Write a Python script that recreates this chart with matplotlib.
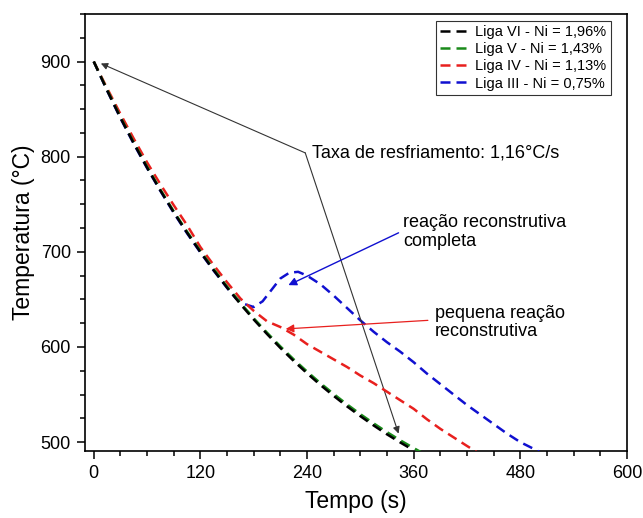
import matplotlib
matplotlib.use("Agg")
import matplotlib.pyplot as plt
from matplotlib.ticker import MultipleLocator

plt.rcParams['font.family'] = ['Liberation Sans', 'DejaVu Sans']

# Cooling curves: time (s) and temperature (°C)
t_vi = [0, 15, 30, 45, 60, 75, 90, 105, 120, 135, 150, 165, 180, 195, 210,
        225, 240, 255, 270, 285, 300, 315, 330, 345, 358]
T_vi = [900, 869.8, 841.0, 814.1, 788.5, 764.4, 741.6, 720.1, 699.8, 680.6,
        662.4, 645.1, 628.9, 613.6, 599.0, 585.3, 572.4, 560.1, 548.6, 537.6,
        527.3, 517.5, 508.2, 499.6, 492.5]

t_v = [0, 15, 30, 45, 60, 75, 90, 105, 120, 135, 150, 165, 180, 195, 210,
       225, 240, 255, 270, 285, 300, 315, 330, 345, 360, 372]
T_v = [900, 870.5, 841.8, 815.0, 789.5, 765.4, 742.6, 721.2, 700.9, 681.8,
       663.6, 646.4, 630.2, 615.0, 600.6, 587.0, 574.2, 562.0, 550.6, 539.7,
       529.4, 519.7, 510.5, 501.9, 493.8, 487.5]

t_iv = [0, 15, 30, 45, 60, 75, 90, 105, 120, 135, 150, 165, 180, 195, 210,
        225, 240, 255, 270, 285, 300, 315, 330, 345, 360, 375, 390, 405, 420, 432]
T_iv = [900, 872, 845, 819, 794, 771, 749, 728, 705, 686, 668, 651, 638, 627,
        621, 613, 603, 595, 587, 579, 570, 562, 553, 544, 535, 524, 514, 505,
        496, 489]

t_iii = [0, 15, 30, 45, 60, 75, 90, 105, 120, 135, 150, 160, 170, 180, 190,
         200, 210, 220, 230, 240, 255, 270, 285, 300, 315, 330, 345, 360, 375,
         390, 405, 420, 435, 450, 465, 480, 495, 505]
T_iii = [900, 869.5, 840.5, 813.5, 788, 764, 741, 719.5, 699.3, 680.2, 662.2,
         651, 645, 642, 648, 660, 672, 678, 679, 675, 666, 654, 641, 628, 616,
         605, 595, 584, 572, 561, 550, 539, 529, 519, 509, 500, 493, 488]

labels = ['Liga VI - Ni = 1,96%', 'Liga V - Ni = 1,43%',
          'Liga IV - Ni = 1,13%', 'Liga III - Ni = 0,75%']
colors = ['black', '#1a8a1a', '#e8201e', '#1010d0']

x_ticks = [0, 120, 240, 360, 480, 600]
y_ticks = [500, 600, 700, 800, 900]

fig = plt.figure(figsize=(6.43, 5.18), dpi=100)
ax = fig.add_axes([0.132, 0.129, 0.843, 0.844])

dash = (0, (4, 2.4))
lw = 1.8
series = [(t_vi, T_vi), (t_v, T_v), (t_iv, T_iv), (t_iii, T_iii)]
handles = [None] * 4
for i in [3, 2, 1, 0]:
    t, T = series[i]
    handles[i], = ax.plot(t, T, color=colors[i], lw=lw, linestyle=dash,
                          label=labels[i], zorder=3 + (3 - i))

ax.set_xlim(-10, 600)
ax.set_ylim(490.5, 950)
ax.set_xticks(x_ticks)
ax.set_yticks(y_ticks)
ax.xaxis.set_minor_locator(MultipleLocator(30))
ax.yaxis.set_minor_locator(MultipleLocator(25))
ax.tick_params(which='both', direction='out', top=False, right=False,
               labelsize=13, width=1.1, pad=4)
ax.tick_params(which='major', length=6)
ax.tick_params(which='minor', length=3.5)
for s in ax.spines.values():
    s.set_linewidth(1.2)

ax.set_xlabel('Tempo (s)', fontsize=16.5, labelpad=6)
ax.set_ylabel('Temperatura (°C)', fontsize=16.5, labelpad=4)

leg = ax.legend(handles=handles, loc='upper right', bbox_to_anchor=(0.97, 0.985),
                fontsize=10.5, frameon=True, fancybox=False, handlelength=2.0,
                handletextpad=0.4, borderpad=0.3, labelspacing=0.22,
                borderaxespad=0)
leg.get_frame().set_edgecolor('black')
leg.get_frame().set_linewidth(0.8)

# Cooling-rate annotation with two leader lines
vx, vy = 238, 804
ax.text(vx + 8, vy, 'Taxa de resfriamento: 1,16°C/s', fontsize=13,
        va='center', ha='left')
for hx, hy in [(8, 898), (343, 509)]:
    ax.annotate('', xy=(hx, hy), xytext=(vx, vy),
                arrowprops=dict(arrowstyle='-|>', color='#333333', lw=0.8,
                                mutation_scale=10, shrinkA=0, shrinkB=0))

ax.annotate('', xy=(219, 665), xytext=(343, 720),
            arrowprops=dict(arrowstyle='-|>', color='#1010d0', lw=1.0,
                            mutation_scale=12, shrinkA=0, shrinkB=0))
ax.text(348, 721, 'reação reconstrutiva\ncompleta', fontsize=13,
        va='center', ha='left', linespacing=1.1)

ax.annotate('', xy=(216, 619), xytext=(376, 628),
            arrowprops=dict(arrowstyle='-|>', color='#e8201e', lw=0.9,
                            mutation_scale=12, shrinkA=0, shrinkB=0))
ax.text(384, 626, 'pequena reação\nreconstrutiva', fontsize=13,
        va='center', ha='left', linespacing=1.1)

fig.savefig('out.png', dpi=100)
